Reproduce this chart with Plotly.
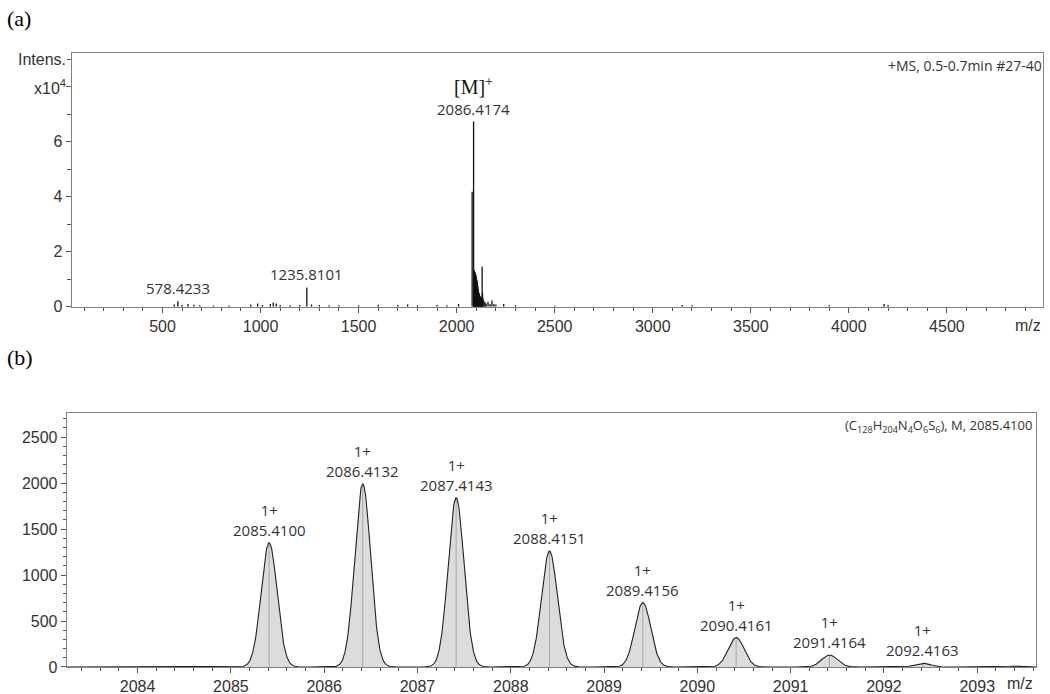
import numpy as np
import plotly.graph_objects as go

# ---------------- Panel (a) data: full-range mass spectrum (intensity in x10^4) ----------------
mz_a = [560, 578.4, 600, 630, 660, 690, 760, 840, 950, 985, 1010, 1050, 1065, 1080, 1100,
        1150, 1200, 1235.8, 1260, 1300, 1350, 1400, 1500, 1600, 1700, 1750, 1800, 1900, 1950,
        2010, 2079, 2086.4, 2088, 2090, 2092, 2094, 2096, 2098, 2100, 2102, 2104, 2106, 2108,
        2110, 2112, 2114, 2116, 2118, 2120, 2122, 2124, 2126, 2128, 2130, 2132, 2135, 2140,
        2145, 2150, 2160, 2170, 2180, 2190, 2200, 2240, 2300, 2500, 3150, 3200, 3900, 4180, 4200]
int_a = [0.08, 0.2, 0.06, 0.1, 0.07, 0.05, 0.04, 0.04, 0.08, 0.12, 0.06, 0.1, 0.15, 0.12, 0.06,
         0.05, 0.06, 0.7, 0.08, 0.06, 0.05, 0.05, 0.05, 0.07, 0.06, 0.08, 0.05, 0.06, 0.05,
         0.1, 4.18, 6.73, 1.35, 1.3, 1.28, 1.25, 1.2, 1.15, 1.1, 1.0, 0.95, 0.85, 0.75,
         0.65, 0.55, 0.5, 0.45, 0.4, 0.38, 0.35, 0.3, 0.3, 0.35, 1.45, 0.5, 0.3, 0.2,
         0.15, 0.12, 0.18, 0.1, 0.22, 0.1, 0.08, 0.1, 0.05, 0.03, 0.06, 0.05, 0.05, 0.1, 0.06]
labels_a_mz = [578.4233, 1235.8101, 2086.4174]
labels_a_int = [0.2, 0.7, 6.73]
labels_a_text = ["578.4233", "1235.8101", "2086.4174"]
xticks_a = [500, 1000, 1500, 2000, 2500, 3000, 3500, 4000, 4500]

# ---------------- Panel (b) data: isotope pattern ----------------
centers_b = [2085.4100, 2086.4132, 2087.4143, 2088.4151, 2089.4156, 2090.4161, 2091.4164, 2092.4163, 2093.40]
heights_b = [1350, 1990, 1840, 1260, 700, 320, 130, 40, 10]
labels_b = ["2085.4100", "2086.4132", "2087.4143", "2088.4151", "2089.4156",
            "2090.4161", "2091.4164", "2092.4163", None]
xticks_b = [2084, 2085, 2086, 2087, 2088, 2089, 2090, 2091, 2092, 2093]
yticks_b = [0, 500, 1000, 1500, 2000, 2500]
peak_sigma = 0.085      # peak width
fill_half = 0.24

fig = go.Figure()

# Panel (a) sticks
xs, ys = [], []
for m, h in zip(mz_a, int_a):
    xs += [m, m, None]
    ys += [0, h, None]
fig.add_trace(go.Scatter(x=xs, y=ys, mode="lines", line=dict(color="#111", width=1.3),
                         xaxis="x", yaxis="y", hoverinfo="skip", showlegend=False))

# Panel (b) profile
grid = np.arange(2083.24, 2093.63, 0.004)
prof = np.zeros_like(grid)
for c, h in zip(centers_b, heights_b):
    prof += h * np.exp(-0.5 * ((grid - c) / peak_sigma) ** 2)

for c, h in zip(centers_b[:-1], heights_b[:-1]):
    px = np.linspace(c - fill_half, c + fill_half, 80)
    py = h * np.exp(-0.5 * ((px - c) / peak_sigma) ** 2)
    fig.add_trace(go.Scatter(x=[px[0]] + list(px) + [px[-1]], y=[0] + list(py) + [0],
                             mode="lines", fill="toself", fillcolor="#dcdcdc",
                             line=dict(width=0), xaxis="x2", yaxis="y2",
                             hoverinfo="skip", showlegend=False))
    fig.add_trace(go.Scatter(x=[c, c], y=[0, h], mode="lines",
                             line=dict(color="#a8a8a8", width=1), xaxis="x2", yaxis="y2",
                             hoverinfo="skip", showlegend=False))

fig.add_trace(go.Scatter(x=grid, y=prof, mode="lines", line=dict(color="#222", width=1.1),
                         xaxis="x2", yaxis="y2", hoverinfo="skip", showlegend=False))

axis_common = dict(showline=True, linecolor="#808080", linewidth=1, mirror=True,
                   ticks="outside", tickcolor="#555", ticklen=5, showgrid=False,
                   zeroline=False, automargin=False,
                   tickfont=dict(family="Liberation Sans, Arial", size=16, color="#333"))

fig.update_layout(
    width=1050, height=694, margin=dict(l=0, r=0, t=0, b=0, autoexpand=False),
    paper_bgcolor="white", plot_bgcolor="white",
    xaxis=dict(domain=[0.0683, 0.9933], range=[37, 4990], anchor="y",
               tickvals=xticks_a, minor=dict(dtick=100, tick0=0, ticks="outside", ticklen=3, tickcolor="#555"),
               **axis_common),
    yaxis=dict(domain=[0.5581, 0.9236], range=[0, 9.22], anchor="x",
               tickvals=[0, 2, 4, 6, 8], ticktext=["0", "2", "4", "6", ""],
               minor=dict(dtick=1, tick0=0, ticks="outside", ticklen=4, tickcolor="#555"),
               **axis_common),
    xaxis2=dict(domain=[0.0635, 0.9867], range=[2083.24, 2093.63], anchor="y2",
                tickvals=xticks_b, minor=dict(dtick=0.2, tick0=2084, ticks="outside", ticklen=3, tickcolor="#555"),
                **axis_common),
    yaxis2=dict(domain=[0.0389, 0.4049], range=[0, 2761], anchor="x2",
                tickvals=yticks_b, minor=dict(dtick=100, tick0=0, ticks="outside", ticklen=3, tickcolor="#555"),
                **axis_common),
)

ann = []
serif = "Liberation Serif, Times New Roman"
sans = "Open Sans, Liberation Sans"
ann.append(dict(text="(a)", x=5, y=18, xref="paper", yref="paper", showarrow=False))
ann.append(dict(text="(b)", x=5, y=358, xref="paper", yref="paper", showarrow=False))
for a in ann:
    a.update(xref="paper", yref="paper", x=a["x"] / 1050, y=1 - a["y"] / 694,
             xanchor="left", yanchor="middle", font=dict(family=serif, size=22, color="#000"))

ann.append(dict(text="Intens.", x=0, y=9, xref="x domain", yref="y", xanchor="right", yanchor="middle",
                xshift=-4, showarrow=False, font=dict(family="Liberation Sans, Arial", size=16, color="#333")))
ann.append(dict(text="x10<sup>4</sup>", x=0, y=8, xref="x domain", yref="y", xanchor="right", yanchor="middle",
                xshift=-4, showarrow=False, font=dict(family="Liberation Sans, Arial", size=16, color="#333")))
ann.append(dict(text="+MS, 0.5-0.7min #27-40", x=1, y=1, xref="x domain", yref="y domain",
                xanchor="right", yanchor="top", yshift=-1, xshift=1, showarrow=False,
                font=dict(family=sans, size=14, color="#333")))
ann.append(dict(text="m/z", x=1028 / 1050, y=1 - 325 / 694, xref="paper", yref="paper",
                xanchor="center", yanchor="middle", showarrow=False,
                font=dict(family="Liberation Sans, Arial", size=16, color="#333")))
ann.append(dict(text="m/z", x=1020 / 1050, y=1 - 683 / 694, xref="paper", yref="paper",
                xanchor="center", yanchor="middle", showarrow=False,
                font=dict(family="Liberation Sans, Arial", size=16, color="#333")))
for m, h, t in zip(labels_a_mz, labels_a_int, labels_a_text):
    ann.append(dict(text=t, x=m, y=h, xref="x", yref="y", xanchor="center", yanchor="bottom",
                    yshift=1, showarrow=False, font=dict(family=sans, size=15, color="#333")))
ann.append(dict(text="[M]<sup>+</sup>", x=2086.4174, y=6.73, xref="x", yref="y", xanchor="center",
                yanchor="bottom", yshift=22, showarrow=False, font=dict(family=serif, size=20, color="#111")))
ann.append(dict(text="(C<sub>128</sub>H<sub>204</sub>N<sub>4</sub>O<sub>6</sub>S<sub>6</sub>), M, 2085.4100",
                x=1, y=1, xref="x2 domain", yref="y2 domain", xanchor="right", yanchor="top",
                yshift=-1, xshift=-2, showarrow=False, font=dict(family=sans, size=13, color="#333")))
for c, h, t in zip(centers_b, heights_b, labels_b):
    if t is None:
        continue
    ann.append(dict(text="1+<br>" + t, x=c, y=h, xref="x2", yref="y2", xanchor="center", yanchor="bottom",
                    yshift=1, showarrow=False, font=dict(family=sans, size=15, color="#333")))
fig.update_layout(annotations=ann)

fig.write_html("out.html")
